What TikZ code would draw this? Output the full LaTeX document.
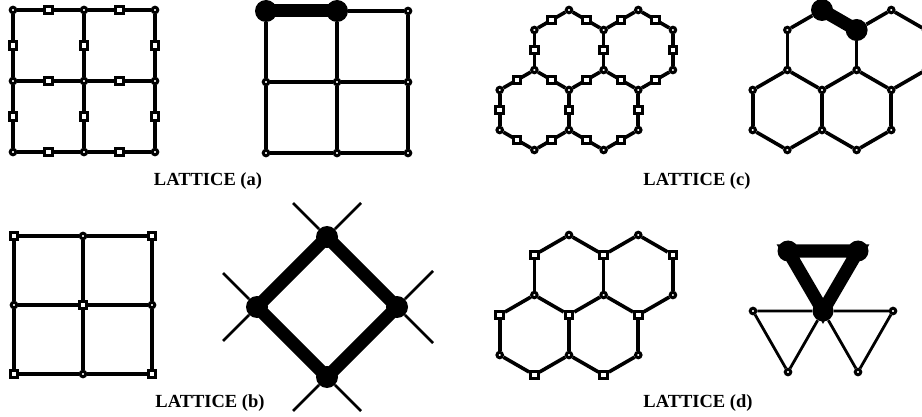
\documentclass[tikz,border=0pt]{standalone}
\usepackage{fontspec}
\setmainfont{Liberation Serif}
% hexagon sites, in units of half a hexagon width / pixels (1 and 3 are set by hand)
\newcommand\hexA{4/2/-40,6/3/20,8/1/20,9/-1/20,12/-2/80,14/0/80,16/2/80}
\newcommand\hexB{2/-1/-20,5/3/-20,7/2/40,10/0/40,11/-2/40,13/-1/100,15/1/100}
\newcommand\hexE{1/2,2/9,3/8,9/10,8/10,3/4,4/5,5/6,6/7,7/8,9/11,11/12,12/13,13/14,14/10,7/16,16/15,15/14}

\begin{document}
\begin{tikzpicture}[
    x=1pt, y=-1pt,
    bond/.style={line width=3.6pt},
    thinbond/.style={line width=2.8pt},
    fatbond/.style={line width=13pt},
    ring/.style={
        circle,
        draw,
        fill=white,
        line width=3pt,
        minimum size=5.5pt,
        inner sep=0pt
    },
    box/.style={
        rectangle,
        draw,
        fill=white,
        line width=3pt,
        minimum size=7.5pt,
        inner sep=0pt
    },
    bigdot/.style={circle, fill, minimum size=22pt, inner sep=0pt},
    caption/.style={font=\bfseries\fontsize{18.5}{21}\selectfont}
]
\path[use as bounding box, clip] (0,0) rectangle (922,417);

% lattice (a), left
\foreach \i in {0,1,2} \foreach \j in {0,1,2}
    \node[ring] (a\i\j) at (13+71*\i, 10+71*\j) {};
\foreach \i in {0,1,2} \foreach \j/\k in {0/1,1/2} {
    \draw[bond] (a\i\j) -- node[box] (av\i\j) {} (a\i\k);
    \draw[bond] (a\j\i) -- node[box] (ah\j\i) {} (a\k\i);
}

% lattice (a), right
\node[bigdot] (A00) at (266,11) {};
\node[bigdot] (A10) at (337,11) {};
\foreach \i/\j in {2/0,0/1,1/1,2/1,0/2,1/2,2/2}
    \node[ring] (A\i\j) at (266+71*\i, 11+71*\j) {};
\draw[bond] (A10) -- (A20) (A00) -- (A01) -- (A02) (A10) -- (A11) -- (A12)
    (A20) -- (A21) -- (A22) (A01) -- (A11) -- (A21) (A02) -- (A12) -- (A22);
\draw[fatbond] (A00.center) -- (A10.center);

% lattice (b), left
\foreach \i/\j in {0/0,2/0,1/1,0/2,2/2}
    \node[box] (b\i\j) at (14+69*\i, 236+69*\j) {};
\foreach \i/\j in {1/0,0/1,2/1,1/2}
    \node[ring] (b\i\j) at (14+69*\i, 236+69*\j) {};
\foreach \i in {0,1,2} \foreach \j/\k in {0/1,1/2} {
    \draw[bond] (b\i\j) -- (b\i\k);
    \draw[bond] (b\j\i) -- (b\k\i);
}

% lattice (b), right
\node[bigdot] (qt) at (327,237) {};
\node[bigdot] (ql) at (257,307) {};
\node[bigdot] (qr) at (397,307) {};
\node[bigdot] (qb) at (327,377) {};
\coordinate (qt1) at (293,203);
\coordinate (qt2) at (361,203);
\coordinate (ql1) at (223,273);
\coordinate (ql2) at (223,341);
\coordinate (qr1) at (433,271);
\coordinate (qr2) at (433,343);
\coordinate (qb1) at (293,411);
\coordinate (qb2) at (361,411);
\draw[thinbond] (qt) -- (qt1) (qt) -- (qt2) (ql) -- (ql1) (ql) -- (ql2)
    (qr) -- (qr1) (qr) -- (qr2) (qb) -- (qb1) (qb) -- (qb2);
\draw[fatbond] (qt.center) -- (qr.center) -- (qb.center) -- (ql.center) -- cycle;

% lattice (c), left
\begin{scope}[shift={(569,50)}]
    \node[ring] (c1) at (0,-40) {};
    \node[ring] (c3) at (34.64,-20) {};
    \foreach \n/\u/\v in \hexA \node[ring] (c\n) at (\u*34.64,\v) {};
    \foreach \n/\u/\v in \hexB \node[ring] (c\n) at (\u*34.64,\v) {};
    \draw[bond] (c1) -- node[box] (cm1-3) {} (c3);
    \foreach \p/\q in \hexE \draw[bond] (c\p) -- node[box] (cm\p-\q) {} (c\q);
\end{scope}

% lattice (c), right
\begin{scope}[shift={(822,50)}]
    \node[bigdot] (C1) at (0,-40) {};
    \node[bigdot] (C3) at (34.64,-20) {};
    \foreach \n/\u/\v in \hexA \node[ring] (C\n) at (\u*34.64,\v) {};
    \foreach \n/\u/\v in \hexB \node[ring] (C\n) at (\u*34.64,\v) {};
    \foreach \p/\q in \hexE \draw[bond] (C\p) -- (C\q);
    \draw[fatbond] (C1.center) -- (C3.center);
\end{scope}

% lattice (d), left
\begin{scope}[shift={(569,275)}]
    \node[ring] (d1) at (0,-40) {};
    \node[box] (d3) at (34.64,-20) {};
    \foreach \n/\u/\v in \hexA \node[ring] (d\n) at (\u*34.64,\v) {};
    \foreach \n/\u/\v in \hexB \node[box] (d\n) at (\u*34.64,\v) {};
    \draw[bond] (d1) -- (d3);
    \foreach \p/\q in \hexE \draw[bond] (d\p) -- (d\q);
\end{scope}

% lattice (d), right
\node[bigdot, minimum size=21pt] (tl) at (788,251) {};
\node[bigdot, minimum size=21pt] (tr) at (858,251) {};
\node[bigdot, minimum size=21pt] (tm) at (823,311) {};
\node[ring] (sl) at (753,311) {};
\node[ring] (sr) at (893,311) {};
\node[ring] (bl) at (788,372) {};
\node[ring] (br) at (858,372) {};
\draw[thinbond] (sl) -- (tm) -- (sr) (sl) -- (bl) -- (tm) -- (br) -- (sr);
\draw[fatbond] (tl.center) -- (tr.center) -- (tm.center) -- cycle;

% captions
\node[caption] (capa) at (208,181) {LATTICE (a)};
\node[caption] (capb) at (210,403) {LATTICE (b)};
\node[caption] (capc) at (697,181) {LATTICE (c)};
\node[caption] (capd) at (698,403) {LATTICE (d)};
\end{tikzpicture}
\end{document}
